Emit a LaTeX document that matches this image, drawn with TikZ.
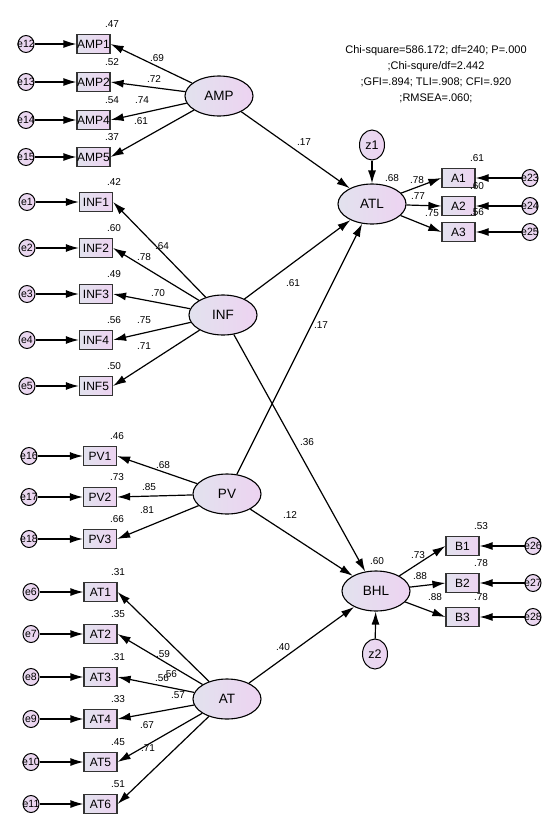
\documentclass[tikz,border=0pt]{standalone}
\usepackage{fontspec}
\setmainfont{Liberation Sans}
\usetikzlibrary{arrows.meta,shapes.geometric}
\definecolor{shadeleft}{HTML}{E2E2EE}
\definecolor{shaderight}{HTML}{EDD3F1}

\begin{document}
\begin{tikzpicture}[x=1pt,y=-1pt,>={Latex[length=13pt,width=8pt]},
  obsbox/.style={draw=black!80,line width=1.2pt,left color=shadeleft,right color=shaderight,minimum width=33pt,minimum height=19pt,inner sep=0pt,font=\fontsize{12}{13}\selectfont},
  latent/.style={ellipse,draw=black,line width=1.1pt,left color=shadeleft,right color=shaderight,minimum width=68pt,minimum height=40pt,inner sep=0pt,font=\fontsize{13.5}{15}\selectfont},
  errc/.style={ellipse,draw=black,line width=1pt,left color=shadeleft!50!shaderight,right color=shaderight,minimum width=16pt,minimum height=17pt,inner sep=0pt,font=\fontsize{10.5}{11}\selectfont},
  resid/.style={ellipse,draw=black,line width=1pt,left color=shadeleft!50!shaderight,right color=shaderight,minimum width=25pt,minimum height=30pt,inner sep=0pt,font=\fontsize{12.5}{13}\selectfont},
  coef/.style={inner sep=0pt,font=\fontsize{10}{11}\selectfont},
  link/.style={->,line width=1.2pt}]
\useasboundingbox (0,0) rectangle (544,838);

% latent variables
\node[latent] (AMP) at (219,96) {AMP};
\node[latent] (INF) at (223,315) {INF};
\node[latent] (PV) at (227,494) {PV};
\node[latent] (AT) at (227,699) {AT};
\node[latent] (ATL) at (372,204) {ATL};
\node[latent] (BHL) at (376,591) {BHL};
\node[resid] (z1) at (372,145) {z1};
\node[resid] (z2) at (375,654) {z2};
\draw[link] (z1) -- (ATL);
\draw[link] (z2) -- (BHL);
\node[coef] (rATL) at (392,178) {.68};
\node[coef] (rBHL) at (377,561) {.60};

% fit statistics
\node[align=center,font=\fontsize{11}{16}\selectfont] (fit) at (436,74) {Chi-square=586.172; df=240; P=.000\\;Chi-squre/df=2.442\\;GFI=.894; TLI=.908; CFI=.920\\;RMSEA=.060;};

% indicators on the left
\foreach \nm/\ev/\y/\rr/\ld/\lx/\ly in {AMP1/e12/44/.47/.69/157/58,AMP2/e13/82/.52/.72/154/79,AMP4/e14/120/.54/.74/142/100,AMP5/e15/157/.37/.61/141/121}{
  \node[errc] (\ev) at (26,\y) {\makebox[0pt]{\ev}};
  \node[obsbox] (\nm) at (93.5,\y) {\nm};
  \node[coef] (r\nm) at (112,\y-20) {\rr};
  \node[coef] (l\nm) at (\lx,\ly) {\ld};
  \draw[link] (\ev) -- (\nm);
  \draw[link] (AMP) -- (\nm.east);
}
\foreach \nm/\ev/\y/\rr/\ld/\lx/\ly in {INF1/e1/202/.42/.64/162/246,INF2/e2/248/.60/.78/144/257,INF3/e3/294/.49/.70/158/293,INF4/e4/340/.56/.75/144/320,INF5/e5/386/.50/.71/144/346}{
  \node[errc] (\ev) at (27,\y) {\makebox[0pt]{\ev}};
  \node[obsbox] (\nm) at (96,\y) {\nm};
  \node[coef] (r\nm) at (114,\y-20) {\rr};
  \node[coef] (l\nm) at (\lx,\ly) {\ld};
  \draw[link] (\ev) -- (\nm);
  \draw[link] (INF) -- (\nm.east);
}
\foreach \nm/\ev/\y/\rr/\ld/\lx/\ly in {PV1/e16/456/.46/.68/163/465,PV2/e17/497/.73/.85/149/487,PV3/e18/539/.66/.81/147/510}{
  \node[errc] (\ev) at (29,\y) {\makebox[0pt]{\ev}};
  \node[obsbox] (\nm) at (100,\y) {\nm};
  \node[coef] (r\nm) at (117,\y-20) {\rr};
  \node[coef] (l\nm) at (\lx,\ly) {\ld};
  \draw[link] (\ev) -- (\nm);
  \draw[link] (PV) -- (\nm.east);
}
\foreach \nm/\ev/\y/\rr/\ld/\lx/\ly in {AT1/e6/592/.31/.59/163/654,AT2/e7/634/.35/.56/170/674,AT3/e8/677/.31/.56/162/678,AT4/e9/719/.33/.57/178/695,AT5/e10/762/.45/.67/147/725,AT6/e11/804/.51/.71/148/748}{
  \node[errc] (\ev) at (31,\y) {\makebox[0pt]{\ev}};
  \node[obsbox] (\nm) at (100.5,\y) {\nm};
  \node[coef] (r\nm) at (118,\y-20) {\rr};
  \node[coef] (l\nm) at (\lx,\ly) {\ld};
  \draw[link] (\ev) -- (\nm);
  \draw[link] (AT) -- (\nm.east);
}

% indicators on the right
\foreach \nm/\ev/\y/\rr/\ld/\lx/\ly in {A1/e23/178/.61/.78/417/180,A2/e24/206/.60/.77/418/196,A3/e25/232/.56/.75/432/213}{
  \node[errc] (\ev) at (530,\y) {\makebox[0pt]{\ev}};
  \node[obsbox] (\nm) at (458.5,\y) {\nm};
  \node[coef] (r\nm) at (477,\y-20) {\rr};
  \node[coef] (l\nm) at (\lx,\ly) {\ld};
  \draw[link] (\ev) -- (\nm);
  \draw[link] (ATL) -- (\nm.west);
}
\foreach \nm/\ev/\y/\rr/\ld/\lx/\ly in {B1/e26/546/.53/.73/418/555,B2/e27/583/.78/.88/420/576,B3/e28/617/.78/.88/435/597}{
  \node[errc] (\ev) at (533,\y) {\makebox[0pt]{\ev}};
  \node[obsbox] (\nm) at (462.5,\y) {\nm};
  \node[coef] (r\nm) at (481,\y-20) {\rr};
  \node[coef] (l\nm) at (\lx,\ly) {\ld};
  \draw[link] (\ev) -- (\nm);
  \draw[link] (BHL) -- (\nm.west);
}

% structural paths
\draw[link] (AMP) -- (ATL);
\draw[link] (INF) -- (ATL);
\draw[link] (PV) -- (ATL);
\draw[link] (INF) -- (BHL);
\draw[link] (PV) -- (BHL);
\draw[link] (AT) -- (BHL);
\node[coef] (pAMPATL) at (304,142) {.17};
\node[coef] (pINFATL) at (293,283) {.61};
\node[coef] (pPVATL) at (321,325) {.17};
\node[coef] (pINFBHL) at (307,442) {.36};
\node[coef] (pPVBHL) at (290,515) {.12};
\node[coef] (pATBHL) at (283,647) {.40};
\end{tikzpicture}
\end{document}
